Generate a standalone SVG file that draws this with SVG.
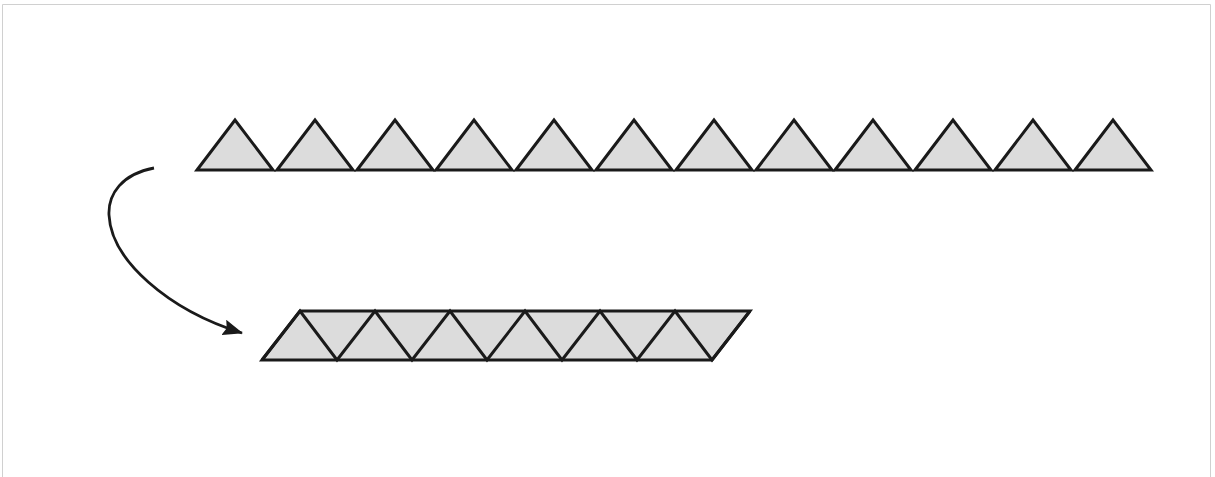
<svg xmlns="http://www.w3.org/2000/svg" width="1215" height="477" viewBox="0 0 1215 477">
<defs>
<style>
.tri{fill:#dcdcdc;stroke:#1a1a1a;stroke-width:3;stroke-linejoin:miter}
.edge{fill:none;stroke:#1a1a1a;stroke-width:2.8}
</style>
<marker id="ah" markerWidth="20" markerHeight="16" refX="19" refY="8" orient="auto" markerUnits="userSpaceOnUse" viewBox="0 0 20 16">
<path d="M0,0 L20,8 L0,16 L3,8 Z" fill="#1a1a1a"/>
</marker>
</defs>
<rect x="0" y="0" width="1215" height="477" fill="#fff"/>
<path d="M2.5,480 V4.5 H1210.5 V480" fill="none" stroke="#d0d0d0" stroke-width="1"/>
<g id="row-top">
<polygon class="tri" points="197,170 235,120 273,170"/>
<polygon class="tri" points="277,170 315,120 353,170"/>
<polygon class="tri" points="357,170 395,120 433,170"/>
<polygon class="tri" points="436,170 474,120 512,170"/>
<polygon class="tri" points="516,170 554,120 592,170"/>
<polygon class="tri" points="596,170 634,120 672,170"/>
<polygon class="tri" points="676,170 714,120 752,170"/>
<polygon class="tri" points="756,170 794,120 832,170"/>
<polygon class="tri" points="835,170 873,120 911,170"/>
<polygon class="tri" points="915,170 953,120 991,170"/>
<polygon class="tri" points="995,170 1033,120 1071,170"/>
<polygon class="tri" points="1075,170 1113,120 1151,170"/>
</g>
<g id="row-bottom">
<polygon class="tri" points="262,360 300,311 750,311 712,360"/>
<polyline fill="none" stroke="#1a1a1a" stroke-width="3" stroke-linejoin="miter" points="262,360 300,311 337,360 375,311 412,360 450,311 487,360 525,311 562,360 600,311 637,360 675,311 712,360 750,311"/>
</g>
<g id="connectors">
<path class="edge" d="M154,168 C122,174 108,194 109,215 C111,260 168,310 242,333" marker-end="url(#ah)"/>
</g>
</svg>
